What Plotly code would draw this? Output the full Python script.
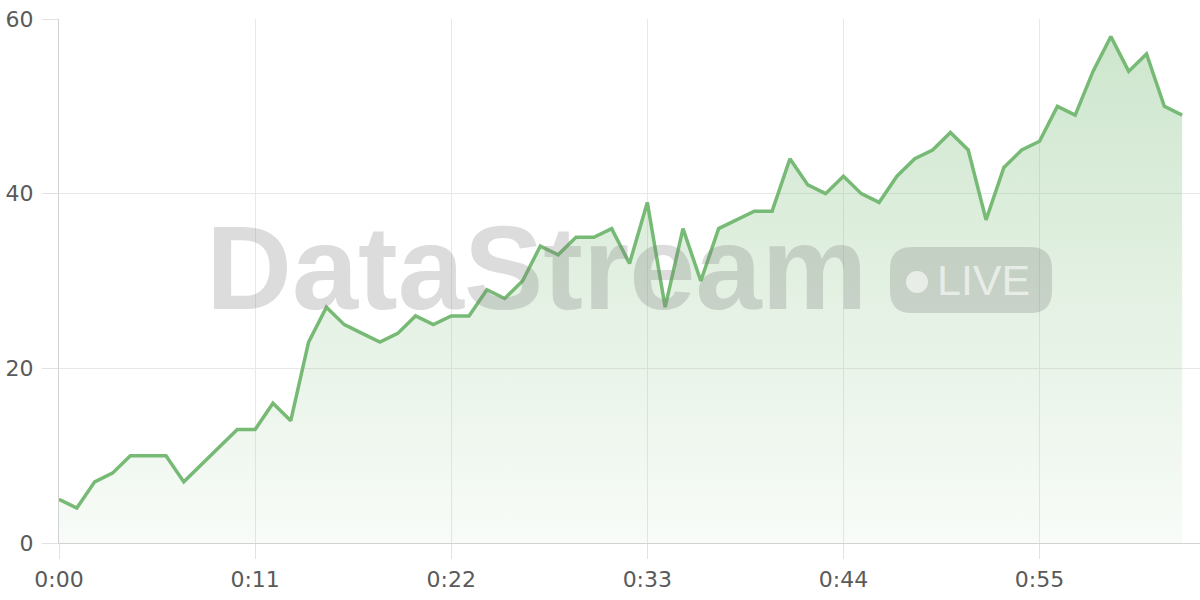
import plotly.graph_objects as go

seconds = list(range(64))
values = [5, 4, 7, 8, 10, 10, 10, 7, 9, 11, 13, 13, 16, 14, 23, 27, 25, 24, 23, 24,
          26, 25, 26, 26, 29, 28, 30, 34, 33, 35, 35, 36, 32, 39, 27, 36, 30, 36, 37, 38,
          38, 44, 41, 40, 42, 40, 39, 42, 44, 45, 47, 45, 37, 43, 45, 46, 50, 49, 54, 58,
          54, 56, 50, 49]
tick_vals = [0, 11, 22, 33, 44, 55]
tick_text = ["0:00", "0:11", "0:22", "0:33", "0:44", "0:55"]
y_ticks = [0, 20, 40, 60]
watermark_text = "DataStream"
badge_text = "LIVE"

W, H = 1200, 600
ML, MR, MT, MB = 59, 0, 19, 57
PW, PH = W - ML - MR, H - MT - MB


def px(x):
    return (x - ML) / PW


def py(y):
    return (H - MB - y) / PH


GREEN = "#77ba75"

fig = go.Figure()
fig.add_trace(go.Scatter(
    x=seconds, y=values, mode="lines",
    line=dict(color=GREEN, width=3.5),
    fill="tozeroy",
    fillgradient=dict(type="vertical",
                      colorscale=[[0, "rgba(118,185,116,0.05)"], [1, "rgba(118,185,116,0.36)"]],
                      start=0, stop=max(values)),
    hoverinfo="skip",
))

wm = "rgba(120,120,120,0.26)"
fig.add_annotation(text=watermark_text, xref="paper", yref="paper",
                   x=px(204), y=py(267), xanchor="left", yanchor="middle",
                   showarrow=False,
                   font=dict(family="Liberation Sans", size=119, color=wm, weight="bold"))

# rounded badge
x0, x1, y0, y1, r = 890, 1052, 247, 313, 22
path = (f"M {px(x0 + r)},{py(y0)} L {px(x1 - r)},{py(y0)} "
        f"Q {px(x1)},{py(y0)} {px(x1)},{py(y0 + r)} L {px(x1)},{py(y1 - r)} "
        f"Q {px(x1)},{py(y1)} {px(x1 - r)},{py(y1)} L {px(x0 + r)},{py(y1)} "
        f"Q {px(x0)},{py(y1)} {px(x0)},{py(y1 - r)} L {px(x0)},{py(y0 + r)} "
        f"Q {px(x0)},{py(y0)} {px(x0 + r)},{py(y0)} Z")
fig.add_shape(type="path", path=path, xref="paper", yref="paper",
              fillcolor=wm, line=dict(width=0), layer="above")
fig.add_shape(type="circle", xref="paper", yref="paper",
              x0=px(906), x1=px(928), y0=py(293), y1=py(271),
              fillcolor="rgba(255,255,255,0.6)", line=dict(width=0), layer="above")
fig.add_annotation(text=badge_text, xref="paper", yref="paper",
                   x=px(935), y=py(280), xanchor="left", yanchor="middle",
                   showarrow=False,
                   font=dict(family="Liberation Sans", size=43, color="rgba(255,255,255,0.6)"))

fig.update_layout(
    width=W, height=H,
    margin=dict(l=ML, r=MR, t=MT, b=MB, autoexpand=False),
    plot_bgcolor="white", paper_bgcolor="white",
    showlegend=False,
    font=dict(family="DejaVu Sans", size=22, color="#5a5a5a"),
    xaxis=dict(range=[0, 64], tickvals=tick_vals, ticktext=tick_text,
               showgrid=True, gridcolor="#e8e8e8", gridwidth=1,
               showline=True, linecolor="#d2d2d2", linewidth=1,
               ticks="outside", ticklen=15, tickcolor="#e2e2e2", tickwidth=1,
               zeroline=False, fixedrange=True, automargin=False,
               ticklabelstandoff=2),
    yaxis=dict(range=[0, 60], tickvals=y_ticks,
               showgrid=True, gridcolor="#e8e8e8", gridwidth=1,
               showline=True, linecolor="#d2d2d2", linewidth=1,
               ticks="outside", ticklen=16, tickcolor="#e2e2e2", tickwidth=1,
               ticklabelstandoff=4,
               zeroline=False, fixedrange=True, automargin=False),
)

fig.write_html("out.html", config={"displayModeBar": False},
               post_script="document.body.style.margin='0';document.body.style.overflow='hidden';")
